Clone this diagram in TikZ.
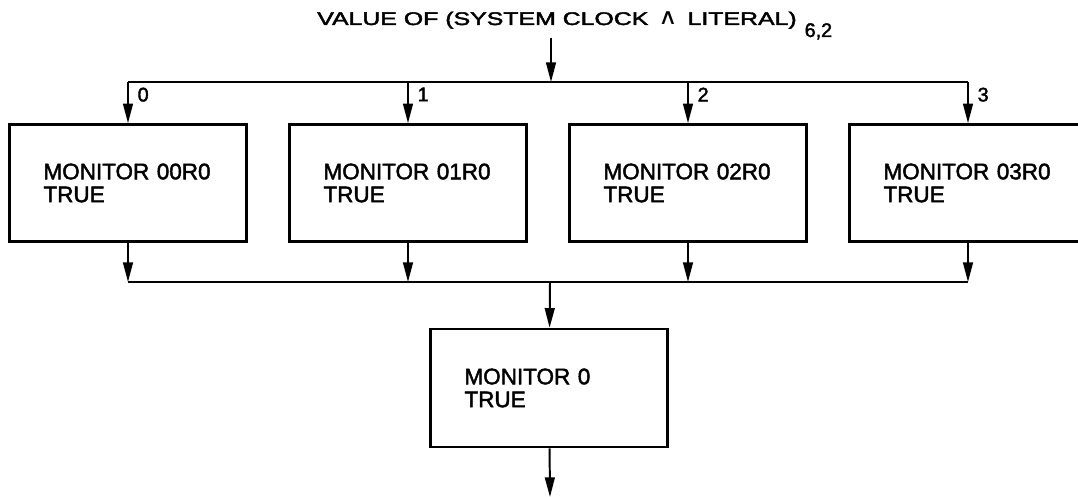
\documentclass[tikz,border=0pt]{standalone}
\usepackage{graphicx}
\usepackage{fontspec}
\setmainfont{Liberation Sans}[FakeBold=2]
\newfontfamily\symfont{DejaVu Sans}
\usetikzlibrary{arrows.meta}

\newcommand\wide[1]{\scalebox{1.36}[1]{#1}}

\begin{document}
\begin{tikzpicture}[
  x=0.025cm, y=-0.025cm,
  every node/.style={font=\fontsize{16}{16.3}\selectfont},
  monitor/.style={draw, line width=1.8pt, minimum width=5.925cm,
    minimum height=2.925cm, text width=4.225cm, inner xsep=0.85cm, align=left},
  flow/.style={line width=1.4pt, -{Triangle[length=14pt, width=7pt]}},
  bus/.style={line width=1.4pt},
  tag/.style={font=\fontsize{14}{15}\selectfont, anchor=north west,
    inner sep=1pt, xshift=0.2cm, yshift=-0.1cm},
]
\useasboundingbox (0,0) rectangle (1078,497);
\def\busy{82}
\def\joiny{282}

% ── clock value at the top ──────────────────
\node[anchor=base west, inner sep=0pt, font=\fontsize{13}{15}\selectfont] (title) at (317,25)
  {\wide{VALUE OF (SYSTEM CLOCK}\hspace{0.25cm}\resizebox{0.48cm}{0.32cm}{\symfont ∧}\hspace{0.25cm}\wide{LITERAL)}\hspace{0.2cm}\raisebox{-0.3cm}{\fontsize{14}{15}\selectfont 6,2}};
\coordinate (in) at (551,38);
\coordinate (split) at (551,\busy);
\draw[flow] (in) -- (split);

% ── the four monitors ──────────────────
\foreach \i in {0,...,3} {
  \node[monitor] (m\i) at (128+280*\i, 183) {MONITOR 0\i R0\\TRUE};
  \coordinate (s\i) at (128+280*\i, \busy);
  \coordinate (j\i) at (128+280*\i, \joiny);
  \draw[flow] (s\i) -- (m\i);
  \draw[flow] (m\i) -- (j\i);
  \node[tag] (n\i) at (s\i) {\i};
}
\draw[bus] (s0) -- (s3);
\draw[bus] (j0) -- (j3);

% ── combined monitor ──────────────────
\coordinate (merge) at (550,\joiny);
\node[monitor, minimum height=2.95cm] (m) at (549,388) {MONITOR 0\\TRUE};
\coordinate (out) at (550,497);
\draw[flow] (merge) -- (m);
\draw[flow] (m) -- (out);

\end{tikzpicture}
\end{document}
